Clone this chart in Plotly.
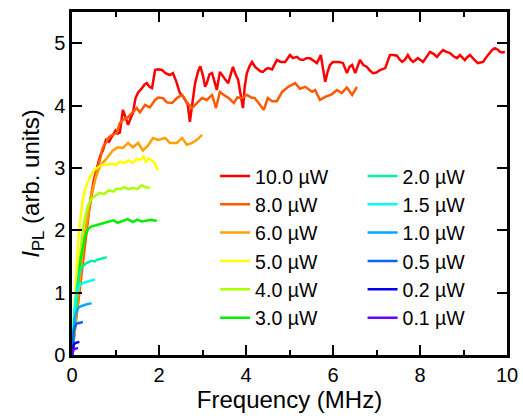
import plotly.graph_objects as go

# power labels and colours
labels = ["10.0 µW", "8.0 µW", "6.0 µW", "5.0 µW", "4.0 µW", "3.0 µW",
          "2.0 µW", "1.5 µW", "1.0 µW", "0.5 µW", "0.2 µW", "0.1 µW"]
colors = ["#ff0000", "#ff5a00", "#ffa000", "#ffff00", "#aaff00", "#00ee00",
          "#00f0a0", "#00ffee", "#00aaff", "#0066ff", "#0000ee", "#6600ff"]

p100_x = [0, 0.05, 0.1, 0.15, 0.2, 0.25, 0.3, 0.35, 0.4, 0.45, 0.5, 0.55, 0.6, 0.65, 0.71, 0.78, 0.85, 0.92,
          1.0, 1.05, 1.1, 1.17, 1.23, 1.29, 1.35, 1.4, 1.46, 1.52, 1.6, 1.66, 1.72, 1.78, 1.84, 1.91, 1.98,
          2.07, 2.15, 2.25, 2.32, 2.4, 2.48, 2.55, 2.6, 2.66, 2.71, 2.77, 2.83, 2.9, 2.95, 3.01, 3.06, 3.1,
          3.16, 3.22, 3.28, 3.33, 3.4, 3.46, 3.52, 3.59, 3.65, 3.7, 3.76, 3.82, 3.87, 3.93, 3.97, 4.02, 4.08,
          4.14, 4.21, 4.28, 4.33, 4.39, 4.45, 4.51, 4.6, 4.71, 4.8, 4.9, 5.01, 5.08, 5.17, 5.24, 5.31, 5.39,
          5.47, 5.55, 5.63, 5.72, 5.77, 5.82, 5.88, 5.93, 6.0, 6.05, 6.14, 6.23, 6.32, 6.38, 6.44, 6.51, 6.57,
          6.62, 6.7, 6.78, 6.85, 6.92, 7.0, 7.08, 7.2, 7.31, 7.39, 7.47, 7.53, 7.59, 7.66, 7.72, 7.78, 7.84,
          7.9, 7.95, 8.01, 8.07, 8.15, 8.23, 8.31, 8.39, 8.46, 8.53, 8.61, 8.69, 8.77, 8.85, 8.92, 8.97, 9.03,
          9.09, 9.15, 9.24, 9.33, 9.39, 9.45, 9.55, 9.66, 9.72, 9.78, 9.84, 9.9, 9.95]
p100_y = [0, 0.35, 0.7, 1.05, 1.35, 1.65, 1.9, 2.15, 2.4, 2.6, 2.8, 2.95, 3.05, 3.2, 3.28, 3.45, 3.42, 3.5,
          3.6, 3.55, 3.57, 3.93, 3.8, 3.69, 3.8, 3.88, 4.12, 4.21, 4.27, 4.33, 4.36, 4.3, 4.28, 4.57, 4.58,
          4.57, 4.52, 4.49, 4.52, 4.38, 4.2, 4.15, 4.09, 4.02, 3.74, 4.1, 4.36, 4.55, 4.63, 4.48, 4.3, 4.36,
          4.5, 4.52, 4.35, 4.25, 4.54, 4.47, 4.42, 4.36, 4.5, 4.62, 4.5, 4.41, 4.2, 3.96, 4.3, 4.52, 4.63,
          4.7, 4.62, 4.57, 4.55, 4.54, 4.58, 4.6, 4.58, 4.73, 4.7, 4.7, 4.81, 4.76, 4.78, 4.74, 4.73, 4.76,
          4.76, 4.72, 4.68, 4.81, 4.6, 4.38, 4.55, 4.65, 4.7, 4.7, 4.7, 4.68, 4.52, 4.62, 4.65, 4.52, 4.62,
          4.73, 4.65, 4.62, 4.56, 4.52, 4.53, 4.57, 4.6, 4.81, 4.81, 4.8, 4.74, 4.7, 4.74, 4.81, 4.74, 4.7,
          4.73, 4.76, 4.73, 4.7, 4.78, 4.86, 4.83, 4.78, 4.84, 4.89, 4.86, 4.84, 4.79, 4.76, 4.81, 4.77, 4.73,
          4.78, 4.81, 4.74, 4.68, 4.69, 4.7, 4.8, 4.89, 4.92, 4.9, 4.86, 4.85, 4.86]

p80_x = [0, 0.05, 0.1, 0.15, 0.2, 0.25, 0.3, 0.35, 0.4, 0.45, 0.5, 0.55, 0.6, 0.65, 0.71, 0.78, 0.83, 0.9,
         1.03, 1.1, 1.17, 1.28, 1.38, 1.49, 1.56, 1.68, 1.79, 1.91, 1.98, 2.09, 2.18, 2.3, 2.41, 2.53, 2.64,
         2.76, 2.87, 2.99, 3.1, 3.22, 3.31, 3.4, 3.49, 3.6, 3.72, 3.8, 3.9, 4.02, 4.12, 4.2, 4.28, 4.41, 4.5,
         4.6, 4.71, 4.83, 4.97, 5.13, 5.24, 5.36, 5.52, 5.59, 5.7, 5.82, 5.97, 6.09, 6.2, 6.32, 6.44, 6.55]
p80_y = [0, 0.3, 0.6, 0.95, 1.25, 1.55, 1.85, 2.1, 2.35, 2.55, 2.75, 2.9, 3.02, 3.15, 3.33, 3.4, 3.48, 3.52,
         3.56, 3.72, 3.77, 3.81, 3.89, 3.96, 3.89, 4.01, 3.97, 4.09, 4.13, 4.12, 4.05, 4.04, 4.12, 4.17, 4.05,
         3.96, 4.04, 4.12, 4.09, 4.17, 3.96, 4.22, 4.17, 4.12, 4.04, 4.13, 4.12, 4.17, 4.13, 4.12, 4.05, 3.93, 4.12,
         4.07, 4.07, 4.22, 4.3, 4.36, 4.27, 4.3, 4.22, 4.25, 4.09, 4.14, 4.18, 4.25, 4.2, 4.29, 4.17, 4.3]

p60_x = [0, 0.05, 0.1, 0.15, 0.2, 0.25, 0.3, 0.35, 0.4, 0.45, 0.5, 0.55, 0.6, 0.66, 0.76, 0.85, 0.94, 1.05,
         1.17, 1.29, 1.4, 1.52, 1.63, 1.75, 1.86, 1.98, 2.14, 2.25, 2.41, 2.53, 2.64, 2.76, 2.87, 2.99]
p60_y = [0, 0.35, 0.7, 1.05, 1.4, 1.7, 1.95, 2.2, 2.4, 2.6, 2.75, 2.85, 2.95, 3.05, 3.12, 3.2, 3.28, 3.33,
         3.32, 3.4, 3.33, 3.4, 3.28, 3.36, 3.48, 3.45, 3.48, 3.4, 3.4, 3.48, 3.37, 3.4, 3.45, 3.53]

p50_x = [0, 0.03, 0.06, 0.09, 0.12, 0.16, 0.2, 0.25, 0.3, 0.35, 0.44, 0.5, 0.6, 0.69, 0.8, 0.92, 1.01,
         1.1, 1.21, 1.3, 1.4, 1.49, 1.56, 1.64, 1.7, 1.76, 1.83, 1.9, 1.98]
p50_y = [0, 0.45, 0.9, 1.25, 1.6, 2.0, 2.25, 2.5, 2.65, 2.75, 2.88, 2.96, 3.01, 3.05, 3.05, 3.07, 3.05,
         3.1, 3.08, 3.12, 3.08, 3.15, 3.12, 3.18, 3.1, 3.15, 3.12, 3.08, 2.96]

p40_x = [0, 0.04, 0.08, 0.12, 0.16, 0.2, 0.25, 0.3, 0.37, 0.44, 0.55, 0.64, 0.74, 0.85, 0.95, 1.03, 1.12,
         1.2, 1.3, 1.4, 1.5, 1.6, 1.7, 1.79]
p40_y = [0, 0.35, 0.7, 1.05, 1.4, 1.7, 2.0, 2.2, 2.4, 2.5, 2.56, 2.6, 2.58, 2.64, 2.62, 2.67, 2.66,
         2.69, 2.66, 2.68, 2.66, 2.72, 2.69, 2.68]

p30_x = [0, 0.04, 0.08, 0.12, 0.16, 0.2, 0.25, 0.3, 0.37, 0.44, 0.55, 0.65, 0.76, 0.85, 0.95, 1.05, 1.17,
         1.28, 1.4, 1.5, 1.6, 1.72, 1.82, 1.95]
p30_y = [0, 0.35, 0.7, 1.0, 1.3, 1.55, 1.75, 1.9, 2.02, 2.06, 2.08, 2.1, 2.12, 2.14, 2.16, 2.12, 2.15,
         2.18, 2.13, 2.17, 2.14, 2.16, 2.17, 2.15]

p20_x = [0, 0.03, 0.06, 0.1, 0.15, 0.2, 0.26, 0.32, 0.38, 0.45, 0.52, 0.58, 0.65, 0.72, 0.8]
p20_y = [0, 0.35, 0.7, 1.0, 1.25, 1.38, 1.43, 1.47, 1.49, 1.51, 1.5, 1.53, 1.54, 1.55, 1.57]

p15_x = [0, 0.03, 0.06, 0.1, 0.15, 0.2, 0.27, 0.33, 0.4, 0.47, 0.53]
p15_y = [0, 0.4, 0.75, 0.95, 1.08, 1.13, 1.16, 1.17, 1.19, 1.2, 1.21]

p10_x = [0, 0.03, 0.06, 0.1, 0.15, 0.2, 0.26, 0.32, 0.38, 0.45]
p10_y = [0, 0.35, 0.58, 0.7, 0.76, 0.78, 0.8, 0.81, 0.82, 0.83]

p05_x = [0, 0.02, 0.04, 0.07, 0.1, 0.14, 0.18, 0.22, 0.25]
p05_y = [0, 0.25, 0.38, 0.46, 0.5, 0.51, 0.52, 0.52, 0.53]

p02_x = [0, 0.02, 0.04, 0.07, 0.1, 0.14, 0.17]
p02_y = [0, 0.1, 0.16, 0.19, 0.2, 0.21, 0.21]

p01_x = [0, 0.02, 0.04, 0.07, 0.1, 0.14]
p01_y = [0, 0.06, 0.09, 0.1, 0.11, 0.11]

xs = [p100_x, p80_x, p60_x, p50_x, p40_x, p30_x, p20_x, p15_x, p10_x, p05_x, p02_x, p01_x]
ys = [p100_y, p80_y, p60_y, p50_y, p40_y, p30_y, p20_y, p15_y, p10_y, p05_y, p02_y, p01_y]

fig = go.Figure()
for i in range(len(labels)):
    fig.add_trace(go.Scatter(x=xs[i], y=ys[i], mode="lines", name=labels[i],
                             line=dict(color=colors[i], width=2.5),
                             legend="legend" if i < 6 else "legend2"))

axis_style = dict(showline=True, linecolor="black", linewidth=2.5, mirror="allticks",
                  ticks="inside", ticklen=10, tickwidth=2, tickcolor="black",
                  showgrid=False, zeroline=False, automargin=False)

fig.update_layout(
    width=523, height=418,
    margin=dict(l=72, r=16, t=12, b=63),
    plot_bgcolor="white", paper_bgcolor="white",
    font=dict(family="Liberation Sans, Arial", size=20, color="black"),
    xaxis=dict(range=[0, 10], dtick=2, tick0=0,
               minor=dict(ticks="inside", ticklen=5, dtick=1, tickwidth=1.5, tickcolor="black"),
               title=dict(text="Frequency (MHz)", standoff=4), **axis_style),
    yaxis=dict(range=[0, 5.5], dtick=1, tick0=0,
               title=dict(text="<i>I</i><sub>PL</sub> (arb. units)", standoff=8), **axis_style),
    legend=dict(x=0.329, y=0.578, xanchor="left", yanchor="top", bgcolor="rgba(0,0,0,0)",
                font=dict(size=19.5), tracegroupgap=0),
    legend2=dict(x=0.668, y=0.578, xanchor="left", yanchor="top", bgcolor="rgba(0,0,0,0)",
                 font=dict(size=19.5), tracegroupgap=0),
)

# drop the default page margin so the figure sits at the window's corner
fig.write_html("out.html", config={"displayModeBar": False},
               post_script="document.body.style.margin='0';")
